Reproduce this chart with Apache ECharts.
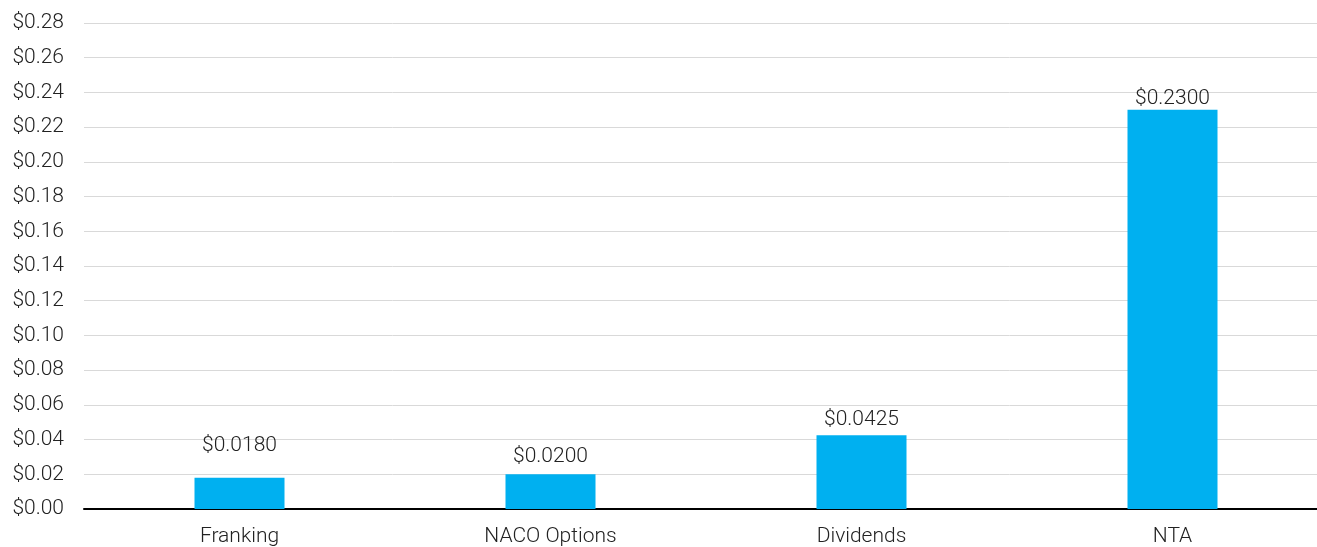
<!DOCTYPE html>
<html>
<head>
<meta charset="utf-8">
<script src="https://cdn.jsdelivr.net/npm/echarts@6/dist/echarts.min.js"></script>
<style>
  html, body { margin: 0; padding: 0; background: #fff; }
  #chart { width: 1317px; height: 547px; }
</style>
</head>
<body>
<div id="chart"></div>
<script>
// Value build-up per component (dollars per share)
const categories = ['Franking', 'NACO Options', 'Dividends', 'NTA'];
const values = [0.018, 0.02, 0.0425, 0.23];

// Axis range
const yMin = 0;
const yMax = 0.28;
const yStep = 0.02;

// Extra lift for labels that sit higher above their bar
const labelLift = [17, 2, 0, -4];

const FONT = 'Roboto';
const WEIGHT = 300;
const chart = echarts.init(document.getElementById('chart'), null, { renderer: 'canvas' });

chart.setOption({
  animation: false,
  backgroundColor: '#ffffff',
  grid: {
    left: 84, width: 1244, top: 23, bottom: 38,
    containLabel: false, outerBoundsMode: 'none'
  },
  xAxis: {
    type: 'category',
    data: categories,
    axisLine: { show: true, lineStyle: { color: '#000', width: 2 } },
    axisTick: { show: false },
    axisLabel: { color: '#222', fontFamily: FONT, fontWeight: WEIGHT, fontSize: 21, margin: 17 }
  },
  yAxis: {
    type: 'value',
    min: yMin,
    max: yMax,
    interval: yStep,
    axisLine: { show: false },
    axisTick: { show: false },
    splitLine: { lineStyle: { color: '#d9d9d9', width: 1 } },
    axisLabel: {
      color: '#222', fontFamily: FONT, fontWeight: WEIGHT, fontSize: 21, margin: 20,
      formatter: v => '$' + v.toFixed(2)
    }
  },
  series: [{
    type: 'bar',
    barWidth: 90,
    itemStyle: { color: '#00b0f0' },
    data: values.map((v, i) => ({
      value: v,
      label: { offset: [0, -labelLift[i]] }
    })),
    label: {
      show: true,
      position: 'top',
      distance: 5,
      color: '#222',
      fontFamily: FONT,
      fontWeight: WEIGHT,
      fontSize: 21,
      formatter: p => '$' + p.value.toFixed(4)
    }
  }]
});
</script>
</body>
</html>
